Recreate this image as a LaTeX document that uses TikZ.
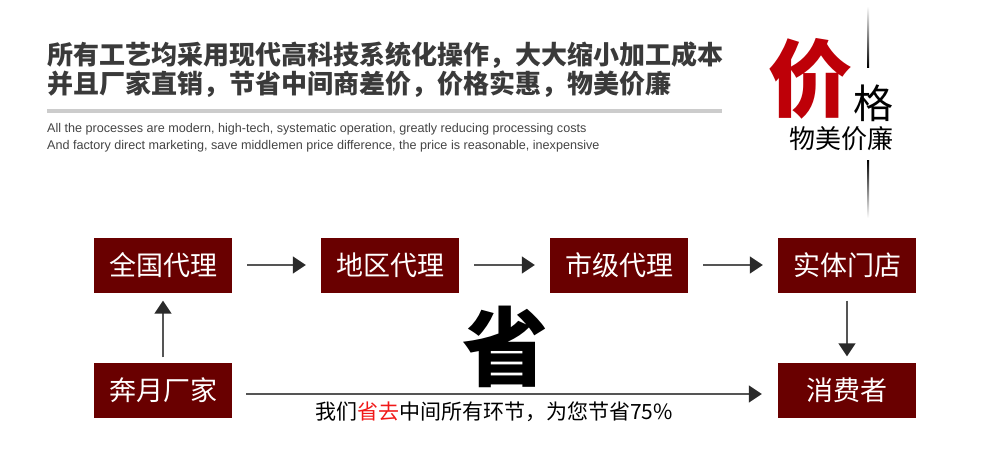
\documentclass[tikz,border=0pt]{standalone}
\usepackage{fontspec}
\usepackage{xcolor}
\setmainfont{Liberation Sans}
\newfontfamily\cjk{Noto Sans CJK SC}
\usetikzlibrary{arrows.meta,positioning}
\definecolor{boxred}{HTML}{690000}
\definecolor{pricered}{HTML}{BE0008}
\definecolor{savered}{HTML}{F01818}
\definecolor{arrgray}{HTML}{555555}
\definecolor{tipdark}{HTML}{2A2A2A}
\definecolor{rulegray}{HTML}{CCCCCC}
\definecolor{engray}{HTML}{444444}
\definecolor{titlegray}{HTML}{3A3A3A}

\begin{document}
\begin{tikzpicture}[x=1pt, y=-1pt,
    stage/.style={fill=boxred, text=white, minimum width=138pt,
                  minimum height=55pt, inner sep=0pt,
                  font=\cjk\fontsize{27}{27}\selectfont},
    arr/.style={-{Triangle[length=13pt,width=17pt,color=tipdark]},
                line width=1.5pt, color=arrgray},
    title/.style={anchor=west, inner sep=0pt, text=titlegray,
                  font=\cjk\bfseries\fontsize{26}{26}\selectfont},
    eng/.style={anchor=west, inner sep=0pt, text=engray,
                font=\fontsize{12.6}{12.6}\selectfont}
]
  \useasboundingbox (0,0) rectangle (990,474);

  % heading
  \node[title] (t1) at (47,55) {所有工艺均采用现代高科技系统化操作，大大缩小加工成本};
  \node[title] (t2) at (47,84) {并且厂家直销，节省中间商差价，价格实惠，物美价廉};
  \fill[rulegray] (47,109) rectangle (722,113);
  \node[eng] (e1) at (47,129) {All the processes are modern, high-tech, systematic operation, greatly reducing processing costs};
  \node[eng] (e2) at (47,146) {And factory direct marketing, save middlemen price difference, the price is reasonable, inexpensive};

  % price mark
  \shade[top color=white, bottom color=black] (867,6) rectangle (869,67);
  \shade[top color=black, bottom color=white] (867,160) rectangle (869,218);
  \node[text=pricered, font=\cjk\bfseries\fontsize{84}{84}\selectfont, inner sep=0pt] (jia) at (810,79) {价};
  \node[font=\cjk\fontsize{40}{40}\selectfont, inner sep=0pt] (ge) at (873,103) {格};
  \node[font=\cjk\fontsize{26}{26}\selectfont, inner sep=0pt] (wm) at (841,139) {物美价廉};

  % chain
  \node[stage] (qg) at (163,265) {全国代理};
  \node[stage] (dq) at (390,265) {地区代理};
  \node[stage] (sj) at (619,265) {市级代理};
  \node[stage] (st) at (847,265) {实体门店};
  \node[stage] (cj) at (163,390) {奔月厂家};
  \node[stage] (xf) at (847,390) {消费者};
  \draw[arr, shorten <=15pt, shorten >=15pt] (qg) -- (dq);
  \draw[arr, shorten <=15pt, shorten >=15pt] (dq) -- (sj);
  \draw[arr, shorten <=15pt, shorten >=15pt] (sj) -- (st);
  \draw[arr, shorten <=5pt, shorten >=8pt] (cj) -- (qg);
  \draw[arr, shorten <=8pt, shorten >=6pt] (st) -- (xf);
  \draw[arr, shorten <=14pt, shorten >=16pt] (cj.east |- 0,394) -- (xf.west |- 0,394);

  % saving note
  \node[font=\cjk\bfseries\fontsize{86}{86}\selectfont, inner sep=0pt] (sheng) at (505,347) {省};
  \node[font=\cjk\fontsize{21}{21}\selectfont, inner sep=0pt] (note) at (494,412)
    {我们\textcolor{savered}{省去}中间所有环节，为您节省75\%};
\end{tikzpicture}
\end{document}
